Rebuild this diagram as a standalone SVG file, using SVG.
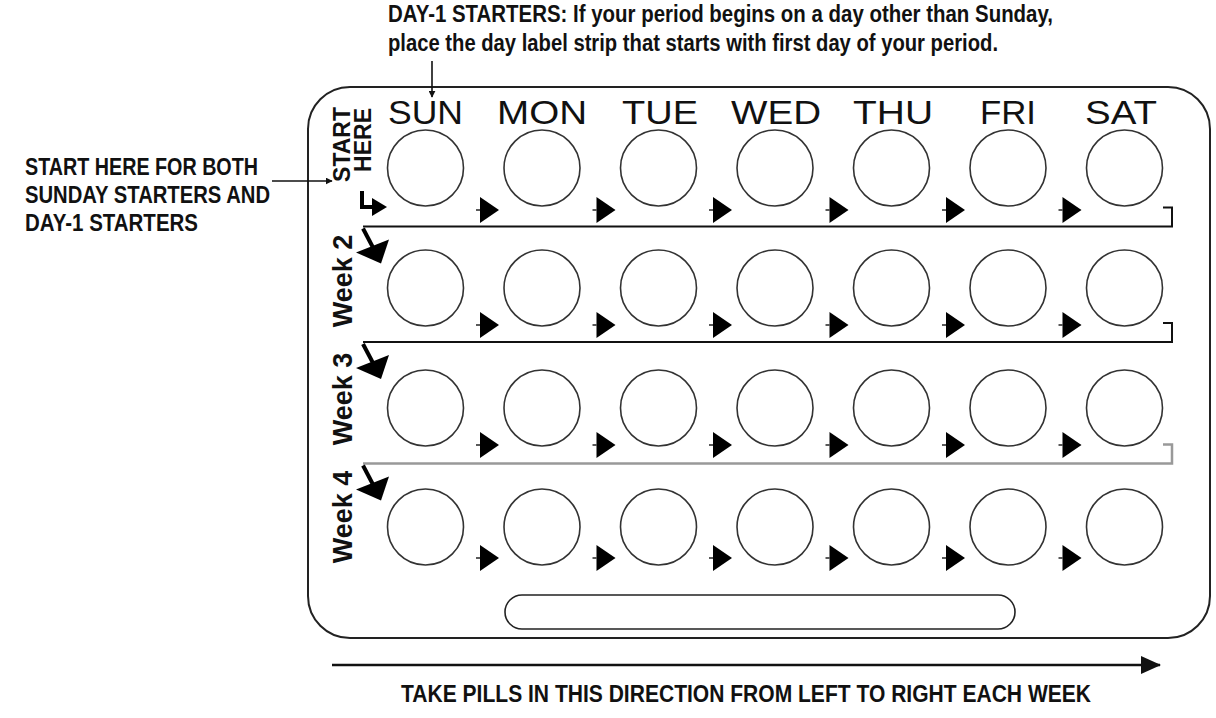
<svg xmlns="http://www.w3.org/2000/svg" xmlns:xlink="http://www.w3.org/1999/xlink" width="1216" height="718" viewBox="0 0 1216 718">
<style>
.note{font-family:"Liberation Sans",Arial,sans-serif;font-weight:bold;font-size:23.5px;fill:#111}
.day{font-family:"Liberation Sans",Arial,sans-serif;font-size:34px;fill:#111;text-anchor:middle}
.wk{font-family:"Liberation Sans",Arial,sans-serif;font-weight:bold;font-size:27px;fill:#111}
.pill{fill:#fff;stroke:#333;stroke-width:1.6}
.thin{fill:none;stroke:#111;stroke-width:1.6}
.sep{fill:none;stroke:#111;stroke-width:2}
.sepg{fill:none;stroke:#999;stroke-width:2.5}
.bold{fill:none;stroke:#000;stroke-width:4}
</style>
<defs>
<marker id="ah" viewBox="0 0 10 10" refX="9" refY="5" markerWidth="7" markerHeight="7" markerUnits="userSpaceOnUse" orient="auto">
<path d="M0,0 L10,5 L0,10 Z" fill="#111"/>
</marker>
<marker id="ahBig" viewBox="0 0 20 18" refX="19" refY="9" markerWidth="20" markerHeight="18" markerUnits="userSpaceOnUse" orient="auto">
<path d="M0,0 L20,9 L0,18 Z" fill="#111"/>
</marker>
<g id="tri"><line x1="-4" y1="0" x2="0" y2="0" stroke="#000" stroke-width="1.3"/><polygon points="0,-13 19,0 0,13" fill="#000"/></g>
<g id="warr"><line x1="0" y1="2" x2="10" y2="21" stroke="#000" stroke-width="4"/><polygon points="-7,26 26,13 18,37" fill="#000"/></g>
</defs>

<g id="instruction-top">
<text class="note" x="388" y="22" textLength="665" lengthAdjust="spacingAndGlyphs">DAY-1 STARTERS: If your period begins on a day other than Sunday,</text>
<text class="note" x="388" y="51" textLength="610" lengthAdjust="spacingAndGlyphs">place the day label strip that starts with first day of your period.</text>
</g>

<g id="instruction-left">
<text class="note" x="25" y="175" textLength="233" lengthAdjust="spacingAndGlyphs">START HERE FOR BOTH</text>
<text class="note" x="25" y="203" textLength="245" lengthAdjust="spacingAndGlyphs">SUNDAY STARTERS AND</text>
<text class="note" x="25" y="231" textLength="173" lengthAdjust="spacingAndGlyphs">DAY-1 STARTERS</text>
</g>

<g id="instruction-bottom">
<text class="note" x="401" y="702" style="font-size:24.5px" textLength="690" lengthAdjust="spacingAndGlyphs">TAKE PILLS IN THIS DIRECTION FROM LEFT TO RIGHT EACH WEEK</text>
</g>

<g id="pack">
<rect x="308" y="87" width="902" height="551" rx="42" ry="42" fill="#fff" stroke="#222" stroke-width="2"/>
</g>

<g id="slot">
<rect x="505" y="595" width="510" height="34" rx="17" ry="17" fill="#fff" stroke="#222" stroke-width="1.6"/>
</g>

<g id="day-labels">
<text class="day" x="425.5" y="124" textLength="75" lengthAdjust="spacingAndGlyphs">SUN</text>
<text class="day" x="542" y="124" textLength="90" lengthAdjust="spacingAndGlyphs">MON</text>
<text class="day" x="660" y="124" textLength="76" lengthAdjust="spacingAndGlyphs">TUE</text>
<text class="day" x="776" y="124" textLength="90" lengthAdjust="spacingAndGlyphs">WED</text>
<text class="day" x="893" y="124" textLength="80" lengthAdjust="spacingAndGlyphs">THU</text>
<text class="day" x="1008" y="124" textLength="56" lengthAdjust="spacingAndGlyphs">FRI</text>
<text class="day" x="1121" y="124" textLength="72" lengthAdjust="spacingAndGlyphs">SAT</text>
</g>

<g id="start-here-label">
<text class="wk" style="font-size:23px" text-anchor="end" transform="translate(350,107) rotate(-90)">START</text>
<text class="wk" style="font-size:23px" text-anchor="end" transform="translate(371,108) rotate(-90)">HERE</text>
</g>
<g id="week2-label"><text class="wk" text-anchor="middle" transform="translate(352,281) rotate(-90)">Week 2</text></g>
<g id="week3-label"><text class="wk" text-anchor="middle" transform="translate(352,399) rotate(-90)">Week 3</text></g>
<g id="week4-label"><text class="wk" text-anchor="middle" transform="translate(352,517) rotate(-90)">Week 4</text></g>

<g id="week1-pills">
<g id="pill-1-sun"><circle class="pill" cx="425.5" cy="168" r="38"/></g>
<g id="pill-1-mon"><circle class="pill" cx="542" cy="168" r="38"/></g>
<g id="pill-1-tue"><circle class="pill" cx="658.5" cy="168" r="38"/></g>
<g id="pill-1-wed"><circle class="pill" cx="775" cy="168" r="38"/></g>
<g id="pill-1-thu"><circle class="pill" cx="891.5" cy="168" r="38"/></g>
<g id="pill-1-fri"><circle class="pill" cx="1008" cy="168" r="38"/></g>
<g id="pill-1-sat"><circle class="pill" cx="1124.5" cy="168" r="38"/></g>
</g>
<g id="week2-pills">
<g id="pill-2-sun"><circle class="pill" cx="425.5" cy="288" r="38"/></g>
<g id="pill-2-mon"><circle class="pill" cx="542" cy="288" r="38"/></g>
<g id="pill-2-tue"><circle class="pill" cx="658.5" cy="288" r="38"/></g>
<g id="pill-2-wed"><circle class="pill" cx="775" cy="288" r="38"/></g>
<g id="pill-2-thu"><circle class="pill" cx="891.5" cy="288" r="38"/></g>
<g id="pill-2-fri"><circle class="pill" cx="1008" cy="288" r="38"/></g>
<g id="pill-2-sat"><circle class="pill" cx="1124.5" cy="288" r="38"/></g>
</g>
<g id="week3-pills">
<g id="pill-3-sun"><circle class="pill" cx="425.5" cy="408" r="38"/></g>
<g id="pill-3-mon"><circle class="pill" cx="542" cy="408" r="38"/></g>
<g id="pill-3-tue"><circle class="pill" cx="658.5" cy="408" r="38"/></g>
<g id="pill-3-wed"><circle class="pill" cx="775" cy="408" r="38"/></g>
<g id="pill-3-thu"><circle class="pill" cx="891.5" cy="408" r="38"/></g>
<g id="pill-3-fri"><circle class="pill" cx="1008" cy="408" r="38"/></g>
<g id="pill-3-sat"><circle class="pill" cx="1124.5" cy="408" r="38"/></g>
</g>
<g id="week4-pills">
<g id="pill-4-sun"><circle class="pill" cx="425.5" cy="527" r="38"/></g>
<g id="pill-4-mon"><circle class="pill" cx="542" cy="527" r="38"/></g>
<g id="pill-4-tue"><circle class="pill" cx="658.5" cy="527" r="38"/></g>
<g id="pill-4-wed"><circle class="pill" cx="775" cy="527" r="38"/></g>
<g id="pill-4-thu"><circle class="pill" cx="891.5" cy="527" r="38"/></g>
<g id="pill-4-fri"><circle class="pill" cx="1008" cy="527" r="38"/></g>
<g id="pill-4-sat"><circle class="pill" cx="1124.5" cy="527" r="38"/></g>
</g>

<g id="connectors">
<line class="thin" x1="432" y1="61" x2="432" y2="97" marker-end="url(#ah)"/>
<line class="thin" x1="272" y1="181" x2="332" y2="181" marker-end="url(#ah)"/>
<line x1="332" y1="665" x2="1160" y2="665" stroke="#111" stroke-width="2.4" marker-end="url(#ahBig)"/>

<path class="sep" d="M363,226.5 H1172 V207.5 H1163"/>
<path class="sep" d="M363,342 H1172 V323 H1163"/>
<path class="sepg" d="M363,463.5 H1172 V444.5 H1163"/>

<path class="bold" d="M362,191 V207 H374" stroke-linejoin="miter"/>
<polygon points="372,198 387,207 372,216" fill="#000"/>

<use xlink:href="#warr" href="#warr" x="363" y="226.5"/>
<use xlink:href="#warr" href="#warr" x="363" y="342"/>
<use xlink:href="#warr" href="#warr" x="363" y="463.5"/>

<use href="#tri" x="480" y="210"/><use href="#tri" x="596.5" y="210"/><use href="#tri" x="713" y="210"/><use href="#tri" x="829.5" y="210"/><use href="#tri" x="946" y="210"/><use href="#tri" x="1062.5" y="210"/>
<use href="#tri" x="480" y="325"/><use href="#tri" x="596.5" y="325"/><use href="#tri" x="713" y="325"/><use href="#tri" x="829.5" y="325"/><use href="#tri" x="946" y="325"/><use href="#tri" x="1062.5" y="325"/>
<use href="#tri" x="480" y="445"/><use href="#tri" x="596.5" y="445"/><use href="#tri" x="713" y="445"/><use href="#tri" x="829.5" y="445"/><use href="#tri" x="946" y="445"/><use href="#tri" x="1062.5" y="445"/>
<use href="#tri" x="480" y="558"/><use href="#tri" x="596.5" y="558"/><use href="#tri" x="713" y="558"/><use href="#tri" x="829.5" y="558"/><use href="#tri" x="946" y="558"/><use href="#tri" x="1062.5" y="558"/>
</g>
</svg>
